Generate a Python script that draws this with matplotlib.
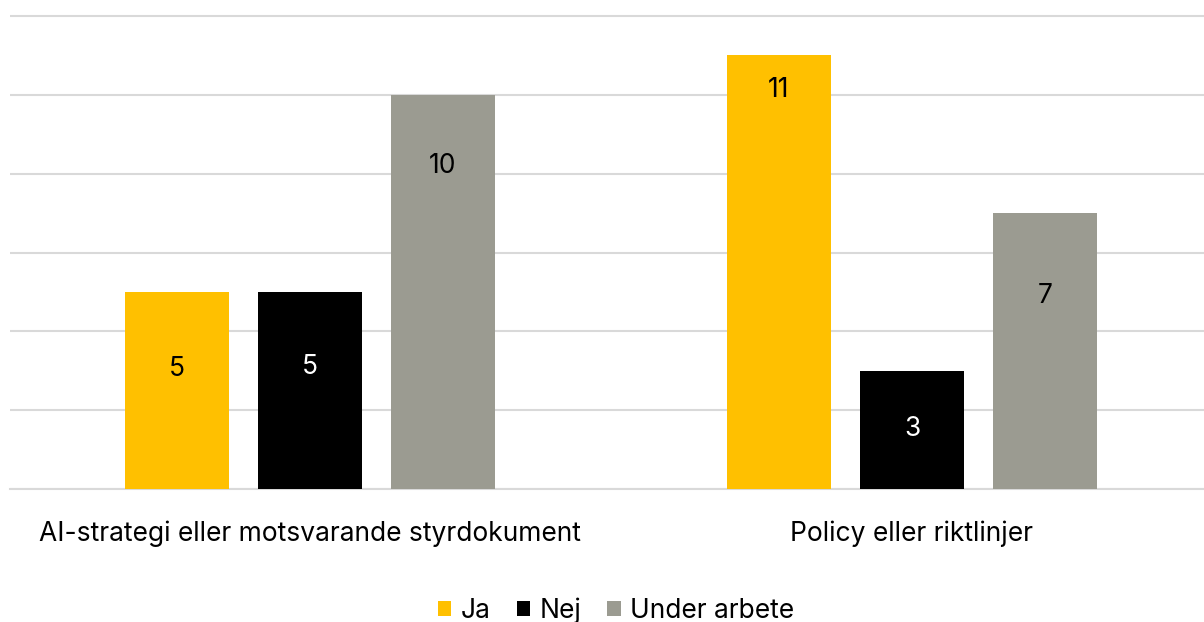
import matplotlib
matplotlib.use("Agg")
import matplotlib.pyplot as plt
from matplotlib.patches import Patch
import numpy as np

categories = ["AI-strategi eller motsvarande styrdokument", "Policy eller riktlinjer"]
series_names = ["Ja", "Nej", "Under arbete"]
ja = [5, 11]
nej = [5, 3]
under = [10, 7]
# relative vertical position of value labels inside bars (fraction of bar height)
label_pos = [[0.61, 0.92], [0.62, 0.51], [0.82, 0.70]]
colors = ["#FFC000", "#000000", "#9B9B91"]
label_colors = ["#000000", "#FFFFFF", "#000000"]

plt.rcParams['font.family'] = ['Inter', 'DejaVu Sans']

W, H = 1204, 622
fig = plt.figure(figsize=(W / 100, H / 100), dpi=100)
px_unit = 473 / 12.0
ymax = 12.2
top_px = 489 - ymax * px_unit
ax = fig.add_axes([10 / W, (H - 489) / H, (W - 10) / W, (489 - top_px) / H])

x = np.arange(len(categories))
bw = 104 / 602
off = 133 / 602
series = [ja, nej, under]
for i, vals in enumerate(series):
    xs = x + (i - 1) * off
    ax.bar(xs, vals, width=bw, color=colors[i], zorder=3)
    for j, v in enumerate(vals):
        ax.text(xs[j], v * label_pos[i][j], str(v), ha="center", va="center",
                fontsize=19, color=label_colors[i], zorder=4)

ax.set_xlim(-300 / 602, (1204 - 310) / 602)
ax.set_ylim(0, ymax)
ax.set_yticks(np.arange(0, 13, 2))
ax.yaxis.grid(True, color="#D9D9D9", linewidth=1.5, zorder=0)
ax.tick_params(left=False, labelleft=False, bottom=False, labelsize=19, pad=19)
ax.set_xticks(x)
ax.set_xticklabels(categories)
for s in ["top", "right", "left"]:
    ax.spines[s].set_visible(False)
ax.spines["bottom"].set_color("#D9D9D9")
ax.spines["bottom"].set_linewidth(1.5)

handles = [Patch(facecolor=c, edgecolor="none") for c in colors]
fig.legend(handles, series_names, loc="center", bbox_to_anchor=(616 / W, (H - 611) / H),
           ncol=3, frameon=False, fontsize=19, handlelength=0.5, handleheight=0.5,
           handletextpad=0.35, columnspacing=1.0)

fig.savefig("out.png", dpi=100)
